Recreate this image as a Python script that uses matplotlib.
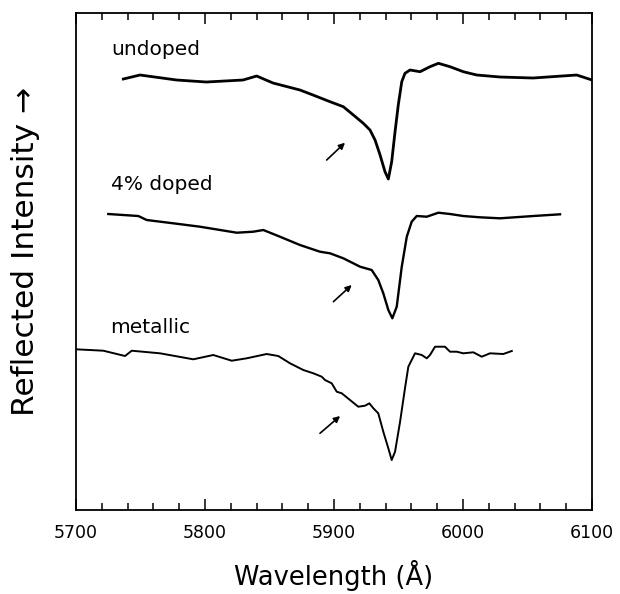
import matplotlib
matplotlib.use("Agg")
import matplotlib.pyplot as plt
from matplotlib.ticker import MultipleLocator

# reflectance spectra, wavelength in Angstrom, intensity in arbitrary units
wl_undoped = [5736.7, 5749.6, 5778.0, 5801.0, 5829.5, 5840.0, 5852.7, 5873.6,
              5883.7, 5896.9, 5907.2, 5915.0, 5922.7, 5927.9, 5931.8, 5935.7,
              5939.5, 5942.1, 5944.7, 5947.3, 5949.8, 5952.5, 5955.0, 5958.9,
              5966.7, 5974.4, 5980.9, 5989.9, 6000.2, 6010.6, 6028.7, 6054.3,
              6088.1, 6100.0]
int_undoped = [431, 435, 430, 428, 430, 434, 427, 420,
               415, 408.3, 403.3, 395, 386.7, 380, 370, 355,
               338.3, 331, 348.3, 378.3, 405, 428.3, 436.7, 440,
               438.3, 443.3, 446.7, 443.3, 438.3, 435, 433, 432,
               435, 430]

wl_doped = [5725.0, 5748.3, 5754.8, 5775.4, 5796.1, 5824.6, 5837.4, 5845.2,
            5858.1, 5873.6, 5889.1, 5896.9, 5907.2, 5920.2, 5929.2, 5934.3,
            5938.2, 5942.1, 5945.2, 5948.6, 5952.5, 5956.4, 5960.2, 5964.1,
            5971.9, 5980.9, 5989.9, 6000.2, 6013.2, 6028.7, 6054.5, 6075.2]
int_doped = [296, 294, 290, 286.7, 283.3, 277.3, 278.3, 280,
             273.3, 265, 258.3, 256.7, 251.7, 243.3, 240, 230,
             216.7, 200, 191.7, 203.3, 243.3, 273.3, 288.3, 294,
             293.3, 297.3, 296, 294, 292.7, 291.7, 294, 295.7]

wl_metallic = [5700.0, 5721.2, 5738.0, 5743.2, 5765.1, 5790.9, 5806.4, 5820.7,
               5832.3, 5847.8, 5856.8, 5865.9, 5876.2, 5884.0, 5890.5, 5893.0,
               5898.2, 5902.1, 5906.0, 5912.4, 5918.8, 5924.0, 5927.4, 5930.5,
               5934.3, 5938.2, 5942.1, 5944.7, 5947.3, 5951.2, 5955.0, 5957.6,
               5962.8, 5968.0, 5971.9, 5974.4, 5978.3, 5986.0, 5989.9, 5995.1,
               6000.2, 6008.0, 6014.5, 6020.9, 6031.2, 6037.8]
int_metallic = [160.7, 159.3, 154, 159.3, 156.7, 150.7, 155, 149.3,
                151.7, 156, 154, 146.7, 140, 136.7, 133.3, 130,
                126.7, 118.3, 116.7, 110, 103.3, 104.3, 106.7, 101.7,
                96.7, 78.3, 61.7, 50, 58.3, 88.3, 121.7, 143.3,
                156.7, 155, 151.7, 155, 163.3, 163.3, 158.3, 158.3,
                156.7, 157.7, 153.3, 156.7, 156, 159]

labels = ["undoped", "4% doped", "metallic"]
label_pos = [(5727.7, 461), (5727.0, 326), (5726.4, 183)]
# arrows: (tail, head) in data coordinates
arrows = [((5894.3, 350.0), (5908.5, 367.3)),
          ((5899.5, 208.3), (5913.7, 225.0)),
          ((5889.1, 76.7), (5904.7, 94.0))]

fig = plt.figure(figsize=(6.2, 5.94), dpi=100)
ax = fig.add_axes([0.1226, 0.1414, 0.8323, 0.8367])

ax.plot(wl_undoped, int_undoped, color="k", lw=2.0, solid_joinstyle="round")
ax.plot(wl_doped, int_doped, color="k", lw=1.7, solid_joinstyle="round")
ax.plot(wl_metallic, int_metallic, color="k", lw=1.4, solid_joinstyle="round")

for txt, (x, y) in zip(labels, label_pos):
    ax.text(x, y, txt, fontsize=14.5, va="center", ha="left")

for tail, head in arrows:
    ax.annotate("", xy=head, xytext=tail,
                arrowprops=dict(arrowstyle="-|>", lw=1.2, color="k",
                                mutation_scale=9, shrinkA=0, shrinkB=0))

ax.set_xlim(5700, 6100)
ax.set_ylim(0, 497)
ax.xaxis.set_major_locator(MultipleLocator(100))
ax.xaxis.set_minor_locator(MultipleLocator(20))
ax.tick_params(axis="x", which="both", direction="in", top=True, bottom=True,
               labelsize=12.5, pad=10, width=1.1)
ax.tick_params(axis="x", which="major", length=8)
ax.tick_params(axis="x", which="minor", length=5)
ax.set_yticks([])
for s in ax.spines.values():
    s.set_linewidth(1.3)

fig.text(0.5 * (0.1226 + 0.9548), 0.032, "Wavelength (Å)", fontsize=18.5,
         ha="center", va="center")
fig.text(0.041, 0.577, "Reflected Intensity \u2192", fontsize=22.5,
         rotation=90, ha="center", va="center")

fig.savefig("out.png", dpi=100)
